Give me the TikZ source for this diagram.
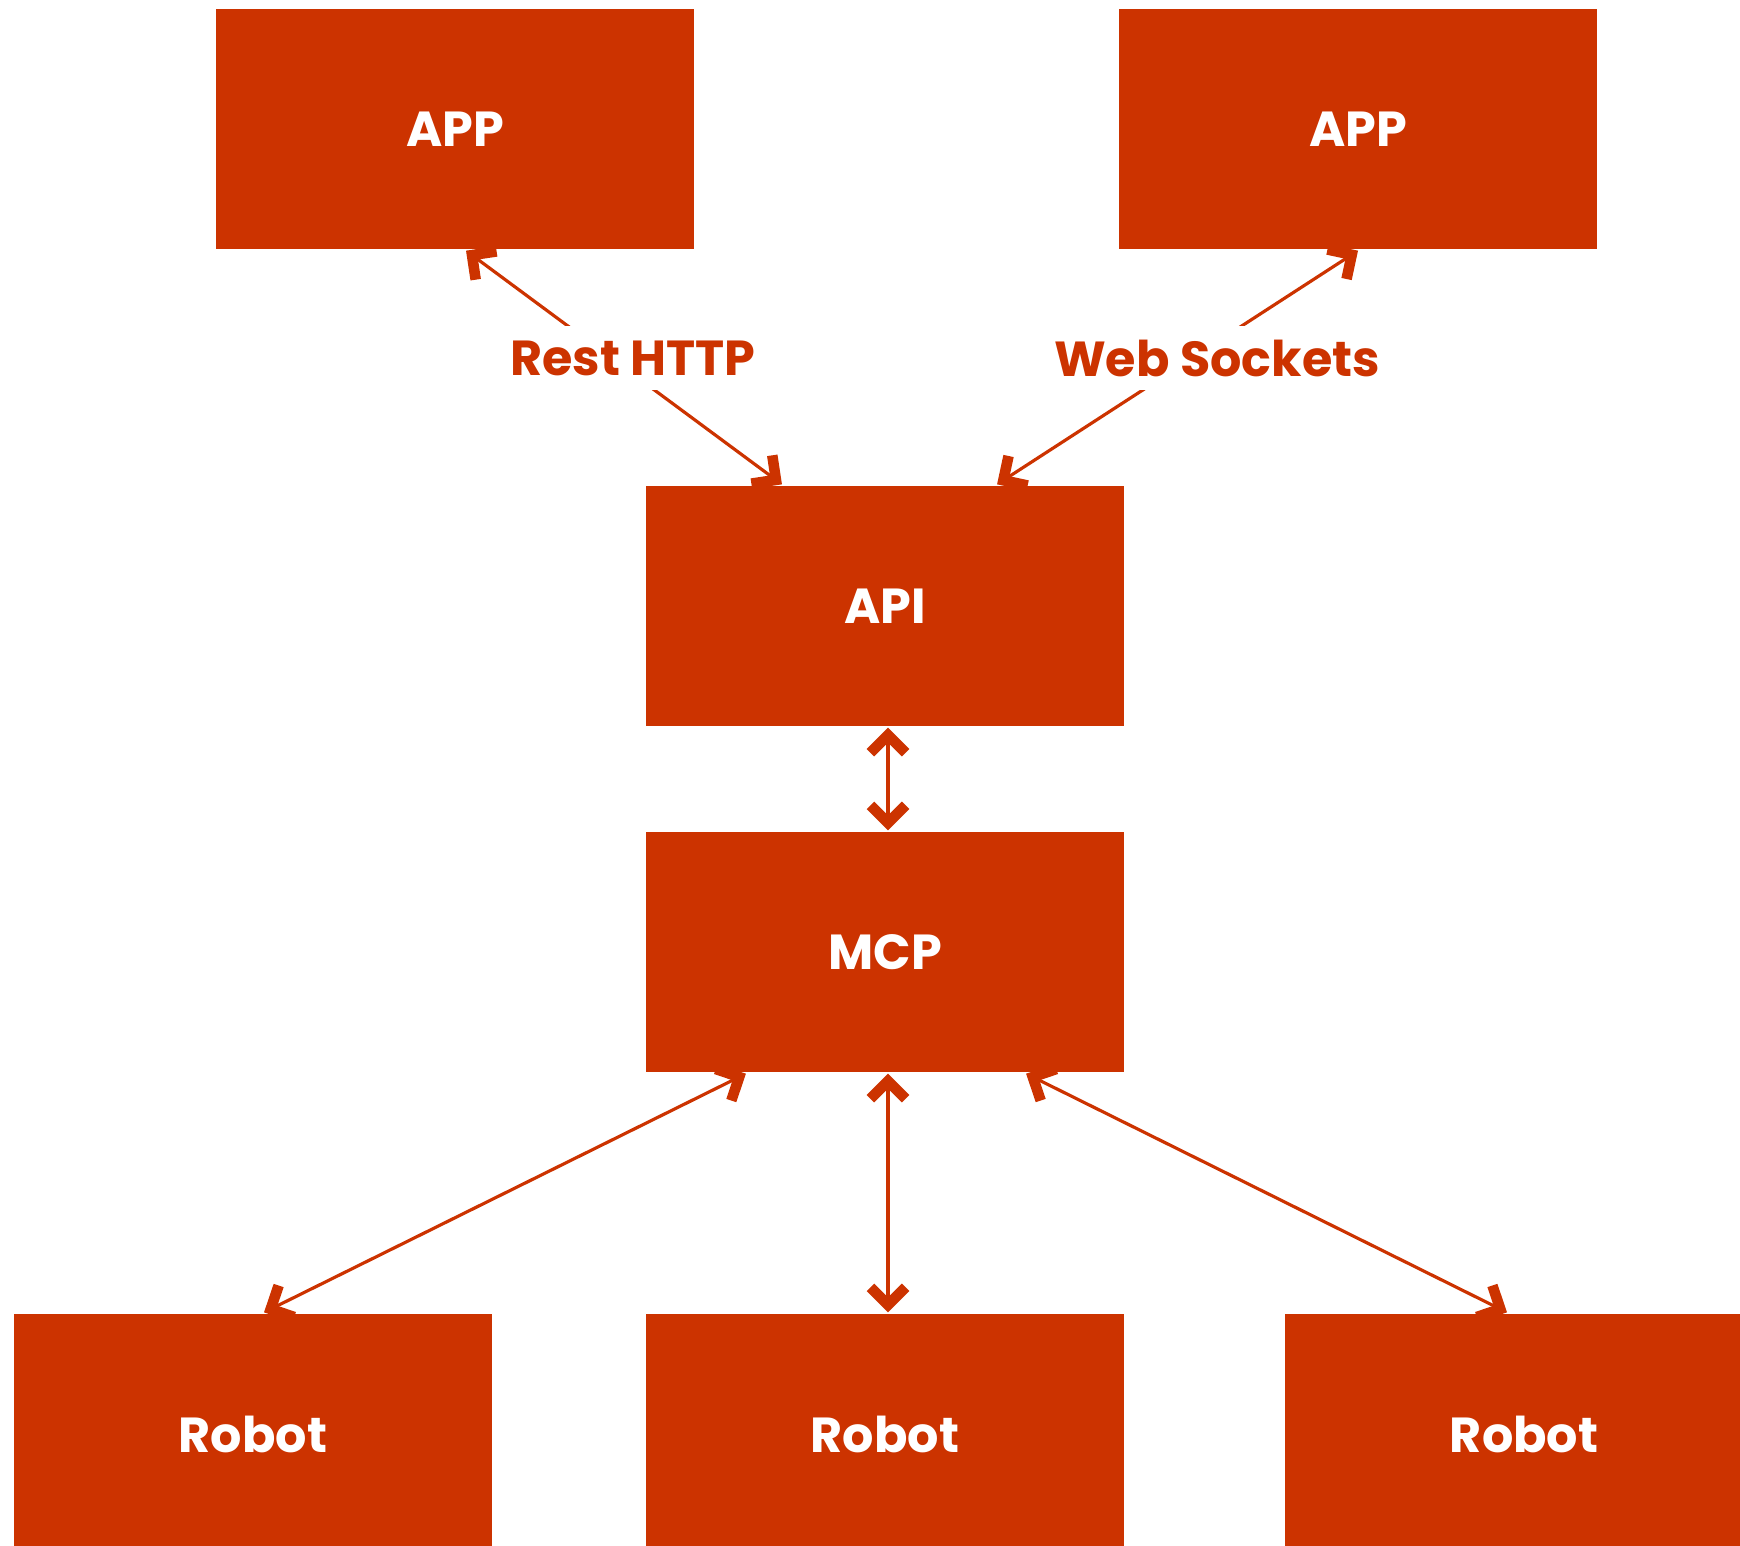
\documentclass[tikz,border=0pt]{standalone}
\usepackage{fontspec}
\setmainfont{Poppins}
\usetikzlibrary{arrows.meta}
\usetikzlibrary{positioning}
\definecolor{rust}{HTML}{CC3300}

\begin{document}
\begin{tikzpicture}[x=0.01cm,y=-0.01cm,<->,>={Straight Barb[length=5pt,width=10pt,line width=3pt]},
    line width=0.9pt,color=rust,
    box node/.style={rectangle,fill=rust,text=white,minimum width=4.78cm,minimum height=2.4cm,inner sep=0pt,font=\fontsize{14}{16}\selectfont\bfseries},
    link label/.style={fill=white,text=rust,inner xsep=2pt,inner ysep=4pt,font=\fontsize{14}{16}\selectfont\bfseries}]
  \useasboundingbox (0,0) rectangle (1740,1545);
  % clients
  \node[box node] (app1) at (455,129) {APP};
  \node[box node] (app2) at (1358,129) {APP};
  % server side
  \node[box node] (api) at (885,606) {API};
  \node[box node] (mcp) at (885,952) {MCP};
  % robots
  \node[box node] (rob1) at (253,1434) {Robot};
  \node[box node] (rob2) at (885,1434) {Robot};
  \node[box node] (rob3) at (1524,1434) {Robot};

  \path ([xshift=0.11cm]app1.south) edge ([xshift=-1.03cm]api.north);
  \path (app2.south) edge ([xshift=1.12cm]api.north);
  \path ([xshift=0.03cm]api.south) edge ([xshift=0.03cm]mcp.north);
  \path ([xshift=-1.39cm]mcp.south) edge ([xshift=0.11cm]rob1.north);
  \path ([xshift=0.03cm]mcp.south) edge ([xshift=0.03cm]rob2.north);
  \path ([xshift=1.41cm]mcp.south) edge ([xshift=-0.17cm]rob3.north);

  \node[link label] (rest) at (633,358) {Rest HTTP};
  \node[link label] (ws) at (1217,358) {Web Sockets};
\end{tikzpicture}
\end{document}
